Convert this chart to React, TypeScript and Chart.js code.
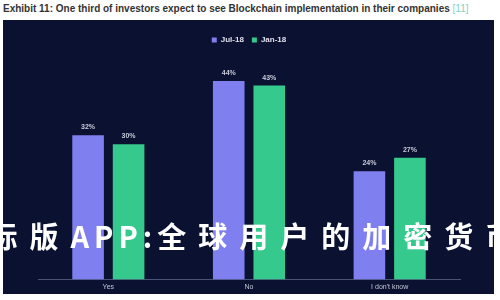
import React, { useEffect, useRef } from "react";
import { Chart, registerables } from "chart.js";

Chart.register(...registerables);

const categories = ["Yes", "No", "I don't know"];
const seriesNames = ["Jul-18", "Jan-18"];
const jul18 = [32, 44, 24];
const jan18 = [30, 43, 27];
const titleText = "Exhibit 11: One third of investors expect to see Blockchain implementation in their companies";
const titleRef = "[11]";
const overlayPre = "际版";
const overlayLatin = "APP:";
const overlayPost = "全球用户的加密货币";

const COLORS = ["#7f7fef", "#36c98d"];
const BG = "#0a1131";

const valueLabels = {
  id: "valueLabels",
  afterDatasetsDraw(chart: any) {
    const ctx = chart.ctx;
    ctx.save();
    ctx.font = "bold 7px 'Liberation Sans', Arial, sans-serif";
    ctx.fillStyle = "#c9cbd8";
    ctx.textAlign = "center";
    ctx.textBaseline = "middle";
    chart.data.datasets.forEach((ds: any, i: number) => {
      const meta = chart.getDatasetMeta(i);
      meta.data.forEach((el: any, j: number) => {
        ctx.fillText(ds.data[j] + "%", el.x, el.y - 8);
      });
    });
    ctx.restore();
  },
};

export default function App() {
  const ref = useRef<HTMLCanvasElement | null>(null);
  useEffect(() => {
    if (!ref.current) return;
    const chart = new Chart(ref.current, {
      type: "bar",
      data: {
        labels: categories,
        datasets: [
          { label: seriesNames[0], data: jul18, backgroundColor: COLORS[0], categoryPercentage: 0.576, barPercentage: 0.78 },
          { label: seriesNames[1], data: jan18, backgroundColor: COLORS[1], categoryPercentage: 0.576, barPercentage: 0.78 },
        ],
      },
      options: {
        animation: false,
        responsive: false,
        maintainAspectRatio: false,
        layout: { padding: { left: 35, right: 34, top: 8, bottom: 0 } },
        plugins: {
          legend: {
            display: true,
            position: "top",
            labels: {
              color: "#dfe1ee",
              boxWidth: 5,
              boxHeight: 5,
              padding: 8,
              font: { size: 8, weight: "bold", family: "'Liberation Sans', Arial, sans-serif" },
            },
          },
          tooltip: { enabled: false },
        },
        scales: {
          x: {
            grid: { display: false, drawTicks: false },
            border: { display: true, color: "#4a5275" },
            ticks: { color: "#c4c7d4", padding: 3, font: { size: 7, family: "'Liberation Sans', Arial, sans-serif" } },
          },
          y: { display: false, min: 0, max: 50 },
        },
      },
      plugins: [valueLabels],
    });
    return () => chart.destroy();
  }, []);

  return (
    <div style={{ position: "fixed", left: 0, top: 0, width: 500, height: 300, background: "#fff", overflow: "hidden" }}>
      <div
        style={{
          position: "absolute",
          left: 3,
          top: 2,
          whiteSpace: "nowrap",
          font: "bold 10px 'Liberation Sans', Arial, sans-serif",
          color: "#333",
          lineHeight: "13px",
        }}
      >
        {titleText} <span style={{ color: "#7fd3c3", fontWeight: "normal" }}>{titleRef}</span>
      </div>
      <div style={{ position: "absolute", left: 3, top: 20, width: 491, height: 274, background: BG }}>
        <canvas ref={ref} width={491} height={274} style={{ display: "block", width: 491, height: 274 }} />
      </div>
      <div
        style={{
          position: "absolute",
          left: -11.5,
          top: 221,
          whiteSpace: "nowrap",
          fontFamily: "'Noto Sans CJK SC', sans-serif",
          fontWeight: 700,
          fontSize: 29,
          lineHeight: "29px",
          letterSpacing: 12,
          color: "#ffffff",
        }}
      >
        {overlayPre}
        <span style={{ letterSpacing: 5 }}>{overlayLatin}</span>
        {overlayPost}
      </div>
    </div>
  );
}
